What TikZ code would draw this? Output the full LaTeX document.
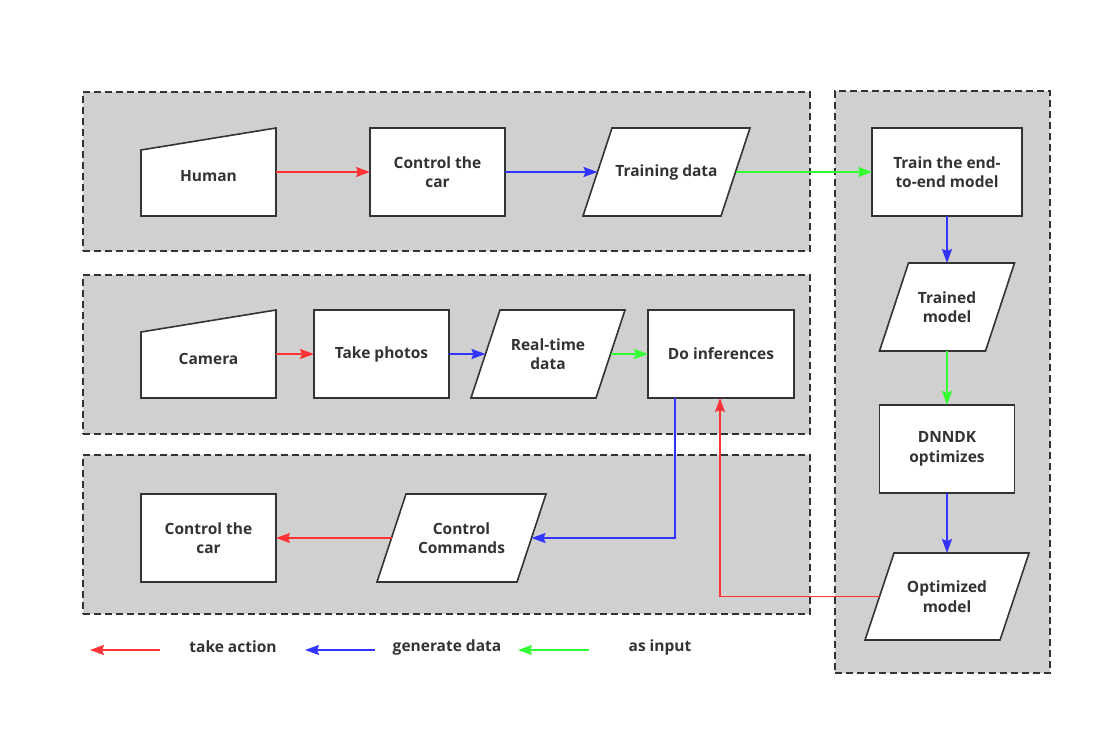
\documentclass[tikz,border=0pt]{standalone}
\usepackage{fontspec}
\setmainfont{Open Sans}
\usetikzlibrary{arrows.meta}

\definecolor{panelgray}{HTML}{D0D0D0}
\definecolor{ink}{HTML}{333333}
\definecolor{actred}{HTML}{FF3333}
\definecolor{datablue}{HTML}{3333FF}
\definecolor{ingreen}{HTML}{33FF33}

\pgfdeclarelayer{panels}
\pgfdeclarelayer{shapes}
\pgfsetlayers{panels,shapes,main}

\tikzset{
  panel/.style={draw=ink, fill=panelgray, dash pattern=on 7pt off 4pt,
    line width=1.5pt, inner sep=0, outer sep=0},
  txt/.style={inner sep=0, outer sep=0, text=ink, align=center,
    font=\fontsize{15.5}{19.5}\selectfont\bfseries},
  procbox/.style={txt, draw=ink, fill=white, line width=1.6pt,
    minimum width=135pt, minimum height=88pt},
  frame/.style={txt, minimum width=135pt, minimum height=88pt},
  outline/.style={draw=ink, fill=white, line width=1.6pt, line join=miter},
  flow/.style={line width=1.8pt, -{Stealth[length=14pt,width=10pt,inset=2pt]}},
  act/.style={flow, draw=actred},
  gen/.style={flow, draw=datablue},
  feed/.style={flow, draw=ingreen},
}

% slanted data shape (parallelogram) drawn inside a frame node
\newcommand\dataslant[2]{%
  \begin{pgfonlayer}{shapes}
    \draw[outline] (#1.south west) -- ([xshift=-#2]#1.south east)
      -- (#1.north east) -- ([xshift=#2]#1.north west) -- cycle;
  \end{pgfonlayer}}
% manual input shape: top edge rising to the right
\newcommand\manualin[1]{%
  \begin{pgfonlayer}{shapes}
    \draw[outline] (#1.south west) -- (#1.south east)
      -- (#1.north east) -- ([yshift=-22pt]#1.north west) -- cycle;
  \end{pgfonlayer}}

\begin{document}
\begin{tikzpicture}[x=1pt, y=-1pt]
\useasboundingbox (0,0) rectangle (1111,736);

% group panels
\begin{pgfonlayer}{panels}
  \node[panel, minimum width=727pt, minimum height=159pt] (rec) at (446.5,171.5) {};
  \node[panel, minimum width=727pt, minimum height=159pt] (sense) at (446.5,354.5) {};
  \node[panel, minimum width=727pt, minimum height=159pt] (drive) at (446.5,534.5) {};
  \node[panel, minimum width=215pt, minimum height=582pt] (model) at (942.5,382) {};
\end{pgfonlayer}

% row 1: recording training data
\node[frame] (human) at (208.5,172) {};
\manualin{human}
\node[txt] (humanlbl) at ([yshift=-4pt]human.center) {Human};
\node[procbox] (ctrlA) at (437.5,172) {Control the\\car};
\node[frame, minimum width=167pt] (train) at (666.5,172) {Training data};
\dataslant{train}{29pt}

% right column: model pipeline
\node[procbox, minimum width=150pt] (e2e) at (947,172) {Train the end-\\to-end model};
\node[frame] (trained) at (947,307) {Trained\\model};
\dataslant{trained}{29pt}
\node[procbox] (dnndk) at (947,449) {DNNDK\\optimizes};
\node[frame, minimum width=164pt, minimum height=87pt] (optim) at (947,596.5) {Optimized\\model};
\dataslant{optim}{29pt}

% row 2: inference
\node[frame] (camera) at (208.5,354) {};
\manualin{camera}
\node[txt] (cameralbl) at ([yshift=-5pt]camera.center) {Camera};
\node[procbox] (photos) at (381.5,354) {Take photos};
\node[frame, minimum width=154pt] (rt) at (548,354) {Real-time\\data};
\dataslant{rt}{29pt}
\node[procbox, minimum width=146pt] (infer) at (721,354) {Do inferences};

% row 3: driving
\node[procbox] (ctrlB) at (208.5,538) {Control the\\car};
\node[frame, minimum width=169pt] (cmds) at (461.5,538) {Control\\Commands};
\dataslant{cmds}{29pt}

% connectors
\draw[act] (human.east) -- (ctrlA.west);
\draw[gen] (ctrlA.east) -- ([xshift=14.5pt]train.west);
\draw[feed] ([xshift=-14.5pt]train.east) -- (e2e.west);
\draw[gen] (e2e.south) -- (e2e.south |- trained.north);
\draw[feed] (trained.south) -- (trained.south |- dnndk.north);
\draw[gen] (dnndk.south) -- (dnndk.south |- optim.north);
\draw[act] ([xshift=14.5pt]optim.west) -| ([xshift=-1pt]infer.south);
\draw[act] (camera.east) -- (photos.west);
\draw[gen] (photos.east) -- ([xshift=14.5pt]rt.west);
\draw[feed] ([xshift=-14.5pt]rt.east) -- (infer.west);
\draw[gen] ([xshift=-46pt]infer.south) |- ([xshift=-14.5pt]cmds.east);
\draw[act] ([xshift=14.5pt]cmds.west) -- (ctrlB.east);

% legend
\coordinate (redA) at (160,650);  \coordinate (redB) at (90,650);
\coordinate (blueA) at (375,650); \coordinate (blueB) at (305,650);
\coordinate (greenA) at (589,650); \coordinate (greenB) at (518,650);
\draw[act] (redA) -- (redB);
\draw[gen] (blueA) -- (blueB);
\draw[feed] (greenA) -- (greenB);
\node[txt] (keyred) at (233,647) {take action};
\node[txt] (keyblue) at (447,647) {generate data};
\node[txt] (keygreen) at (660,647) {as input};
\end{tikzpicture}
\end{document}
